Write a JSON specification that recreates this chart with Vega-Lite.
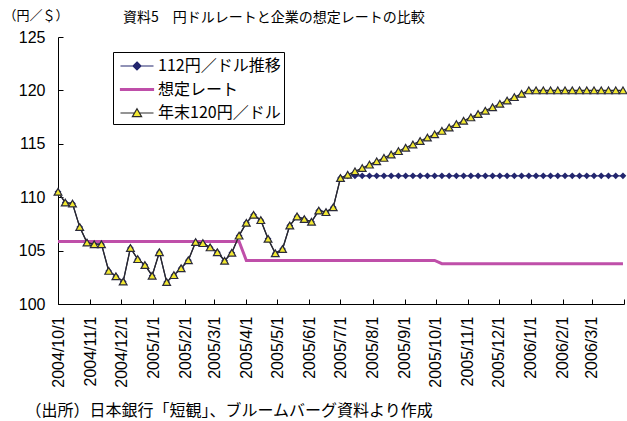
{
  "$schema": "https://vega.github.io/schema/vega-lite/v6.json",
  "width": 566,
  "height": 267,
  "autosize": "none",
  "padding": {"left": 58, "top": 37, "right": 3, "bottom": 117},
  "background": "#ffffff",
  "title": {"text": "資料5　円ドルレートと企業の想定レートの比較", "anchor": "start", "dx": 120, "offset": -30, "baseline": "bottom", "fontSize": 14, "font": "Noto Sans CJK JP", "fontWeight": "normal", "color": "#000000"},
  "data": {"values": [
    {"date":"2004-10-01","series":"112円／ドル推移","value":110.5},
    {"date":"2004-10-08","series":"112円／ドル推移","value":109.5},
    {"date":"2004-10-15","series":"112円／ドル推移","value":109.4},
    {"date":"2004-10-22","series":"112円／ドル推移","value":107.2},
    {"date":"2004-10-29","series":"112円／ドル推移","value":105.75},
    {"date":"2004-11-05","series":"112円／ドル推移","value":105.6},
    {"date":"2004-11-12","series":"112円／ドル推移","value":105.6},
    {"date":"2004-11-19","series":"112円／ドル推移","value":103.1},
    {"date":"2004-11-26","series":"112円／ドル推移","value":102.6},
    {"date":"2004-12-03","series":"112円／ドル推移","value":102.1},
    {"date":"2004-12-10","series":"112円／ドル推移","value":105.25},
    {"date":"2004-12-17","series":"112円／ドル推移","value":104.2},
    {"date":"2004-12-24","series":"112円／ドル推移","value":103.65},
    {"date":"2004-12-31","series":"112円／ドル推移","value":102.65},
    {"date":"2005-01-07","series":"112円／ドル推移","value":104.85},
    {"date":"2005-01-14","series":"112円／ドル推移","value":102.05},
    {"date":"2005-01-21","series":"112円／ドル推移","value":102.7},
    {"date":"2005-01-28","series":"112円／ドル推移","value":103.35},
    {"date":"2005-02-04","series":"112円／ドル推移","value":104.1},
    {"date":"2005-02-11","series":"112円／ドル推移","value":105.8},
    {"date":"2005-02-18","series":"112円／ドル推移","value":105.7},
    {"date":"2005-02-25","series":"112円／ドル推移","value":105.3},
    {"date":"2005-03-04","series":"112円／ドル推移","value":104.85},
    {"date":"2005-03-11","series":"112円／ドル推移","value":104.05},
    {"date":"2005-03-18","series":"112円／ドル推移","value":104.8},
    {"date":"2005-03-25","series":"112円／ドル推移","value":106.4},
    {"date":"2005-04-01","series":"112円／ドル推移","value":107.6},
    {"date":"2005-04-08","series":"112円／ドル推移","value":108.35},
    {"date":"2005-04-15","series":"112円／ドル推移","value":107.85},
    {"date":"2005-04-22","series":"112円／ドル推移","value":106.1},
    {"date":"2005-04-29","series":"112円／ドル推移","value":104.75},
    {"date":"2005-05-06","series":"112円／ドル推移","value":105.15},
    {"date":"2005-05-13","series":"112円／ドル推移","value":107.35},
    {"date":"2005-05-20","series":"112円／ドル推移","value":108.2},
    {"date":"2005-05-27","series":"112円／ドル推移","value":107.95},
    {"date":"2005-06-03","series":"112円／ドル推移","value":107.7},
    {"date":"2005-06-10","series":"112円／ドル推移","value":108.75},
    {"date":"2005-06-17","series":"112円／ドル推移","value":108.6},
    {"date":"2005-06-24","series":"112円／ドル推移","value":109.05},
    {"date":"2005-07-01","series":"112円／ドル推移","value":111.8},
    {"date":"2005-07-08","series":"112円／ドル推移","value":112},
    {"date":"2005-07-15","series":"112円／ドル推移","value":112},
    {"date":"2005-07-22","series":"112円／ドル推移","value":112},
    {"date":"2005-07-29","series":"112円／ドル推移","value":112},
    {"date":"2005-08-05","series":"112円／ドル推移","value":112},
    {"date":"2005-08-12","series":"112円／ドル推移","value":112},
    {"date":"2005-08-19","series":"112円／ドル推移","value":112},
    {"date":"2005-08-26","series":"112円／ドル推移","value":112},
    {"date":"2005-09-02","series":"112円／ドル推移","value":112},
    {"date":"2005-09-09","series":"112円／ドル推移","value":112},
    {"date":"2005-09-16","series":"112円／ドル推移","value":112},
    {"date":"2005-09-23","series":"112円／ドル推移","value":112},
    {"date":"2005-09-30","series":"112円／ドル推移","value":112},
    {"date":"2005-10-07","series":"112円／ドル推移","value":112},
    {"date":"2005-10-14","series":"112円／ドル推移","value":112},
    {"date":"2005-10-21","series":"112円／ドル推移","value":112},
    {"date":"2005-10-28","series":"112円／ドル推移","value":112},
    {"date":"2005-11-04","series":"112円／ドル推移","value":112},
    {"date":"2005-11-11","series":"112円／ドル推移","value":112},
    {"date":"2005-11-18","series":"112円／ドル推移","value":112},
    {"date":"2005-11-25","series":"112円／ドル推移","value":112},
    {"date":"2005-12-02","series":"112円／ドル推移","value":112},
    {"date":"2005-12-09","series":"112円／ドル推移","value":112},
    {"date":"2005-12-16","series":"112円／ドル推移","value":112},
    {"date":"2005-12-23","series":"112円／ドル推移","value":112},
    {"date":"2005-12-30","series":"112円／ドル推移","value":112},
    {"date":"2006-01-06","series":"112円／ドル推移","value":112},
    {"date":"2006-01-13","series":"112円／ドル推移","value":112},
    {"date":"2006-01-20","series":"112円／ドル推移","value":112},
    {"date":"2006-01-27","series":"112円／ドル推移","value":112},
    {"date":"2006-02-03","series":"112円／ドル推移","value":112},
    {"date":"2006-02-10","series":"112円／ドル推移","value":112},
    {"date":"2006-02-17","series":"112円／ドル推移","value":112},
    {"date":"2006-02-24","series":"112円／ドル推移","value":112},
    {"date":"2006-03-03","series":"112円／ドル推移","value":112},
    {"date":"2006-03-10","series":"112円／ドル推移","value":112},
    {"date":"2006-03-17","series":"112円／ドル推移","value":112},
    {"date":"2006-03-24","series":"112円／ドル推移","value":112},
    {"date":"2006-03-31","series":"112円／ドル推移","value":112},

    {"date":"2004-10-01","series":"想定レート","value":105.85},
    {"date":"2004-10-08","series":"想定レート","value":105.85},
    {"date":"2004-10-15","series":"想定レート","value":105.85},
    {"date":"2004-10-22","series":"想定レート","value":105.85},
    {"date":"2004-10-29","series":"想定レート","value":105.85},
    {"date":"2004-11-05","series":"想定レート","value":105.85},
    {"date":"2004-11-12","series":"想定レート","value":105.85},
    {"date":"2004-11-19","series":"想定レート","value":105.85},
    {"date":"2004-11-26","series":"想定レート","value":105.85},
    {"date":"2004-12-03","series":"想定レート","value":105.85},
    {"date":"2004-12-10","series":"想定レート","value":105.85},
    {"date":"2004-12-17","series":"想定レート","value":105.85},
    {"date":"2004-12-24","series":"想定レート","value":105.85},
    {"date":"2004-12-31","series":"想定レート","value":105.85},
    {"date":"2005-01-07","series":"想定レート","value":105.85},
    {"date":"2005-01-14","series":"想定レート","value":105.85},
    {"date":"2005-01-21","series":"想定レート","value":105.85},
    {"date":"2005-01-28","series":"想定レート","value":105.85},
    {"date":"2005-02-04","series":"想定レート","value":105.85},
    {"date":"2005-02-11","series":"想定レート","value":105.85},
    {"date":"2005-02-18","series":"想定レート","value":105.85},
    {"date":"2005-02-25","series":"想定レート","value":105.85},
    {"date":"2005-03-04","series":"想定レート","value":105.85},
    {"date":"2005-03-11","series":"想定レート","value":105.85},
    {"date":"2005-03-18","series":"想定レート","value":105.85},
    {"date":"2005-03-25","series":"想定レート","value":105.85},
    {"date":"2005-04-01","series":"想定レート","value":104.08},
    {"date":"2005-04-08","series":"想定レート","value":104.08},
    {"date":"2005-04-15","series":"想定レート","value":104.08},
    {"date":"2005-04-22","series":"想定レート","value":104.08},
    {"date":"2005-04-29","series":"想定レート","value":104.08},
    {"date":"2005-05-06","series":"想定レート","value":104.08},
    {"date":"2005-05-13","series":"想定レート","value":104.08},
    {"date":"2005-05-20","series":"想定レート","value":104.08},
    {"date":"2005-05-27","series":"想定レート","value":104.08},
    {"date":"2005-06-03","series":"想定レート","value":104.08},
    {"date":"2005-06-10","series":"想定レート","value":104.08},
    {"date":"2005-06-17","series":"想定レート","value":104.08},
    {"date":"2005-06-24","series":"想定レート","value":104.08},
    {"date":"2005-07-01","series":"想定レート","value":104.08},
    {"date":"2005-07-08","series":"想定レート","value":104.08},
    {"date":"2005-07-15","series":"想定レート","value":104.08},
    {"date":"2005-07-22","series":"想定レート","value":104.08},
    {"date":"2005-07-29","series":"想定レート","value":104.08},
    {"date":"2005-08-05","series":"想定レート","value":104.08},
    {"date":"2005-08-12","series":"想定レート","value":104.08},
    {"date":"2005-08-19","series":"想定レート","value":104.08},
    {"date":"2005-08-26","series":"想定レート","value":104.08},
    {"date":"2005-09-02","series":"想定レート","value":104.08},
    {"date":"2005-09-09","series":"想定レート","value":104.08},
    {"date":"2005-09-16","series":"想定レート","value":104.08},
    {"date":"2005-09-23","series":"想定レート","value":104.08},
    {"date":"2005-09-30","series":"想定レート","value":104.08},
    {"date":"2005-10-07","series":"想定レート","value":103.78},
    {"date":"2005-10-14","series":"想定レート","value":103.78},
    {"date":"2005-10-21","series":"想定レート","value":103.78},
    {"date":"2005-10-28","series":"想定レート","value":103.78},
    {"date":"2005-11-04","series":"想定レート","value":103.78},
    {"date":"2005-11-11","series":"想定レート","value":103.78},
    {"date":"2005-11-18","series":"想定レート","value":103.78},
    {"date":"2005-11-25","series":"想定レート","value":103.78},
    {"date":"2005-12-02","series":"想定レート","value":103.78},
    {"date":"2005-12-09","series":"想定レート","value":103.78},
    {"date":"2005-12-16","series":"想定レート","value":103.78},
    {"date":"2005-12-23","series":"想定レート","value":103.78},
    {"date":"2005-12-30","series":"想定レート","value":103.78},
    {"date":"2006-01-06","series":"想定レート","value":103.78},
    {"date":"2006-01-13","series":"想定レート","value":103.78},
    {"date":"2006-01-20","series":"想定レート","value":103.78},
    {"date":"2006-01-27","series":"想定レート","value":103.78},
    {"date":"2006-02-03","series":"想定レート","value":103.78},
    {"date":"2006-02-10","series":"想定レート","value":103.78},
    {"date":"2006-02-17","series":"想定レート","value":103.78},
    {"date":"2006-02-24","series":"想定レート","value":103.78},
    {"date":"2006-03-03","series":"想定レート","value":103.78},
    {"date":"2006-03-10","series":"想定レート","value":103.78},
    {"date":"2006-03-17","series":"想定レート","value":103.78},
    {"date":"2006-03-24","series":"想定レート","value":103.78},
    {"date":"2006-03-31","series":"想定レート","value":103.78},

    {"date":"2004-10-01","series":"年末120円／ドル","value":110.5},
    {"date":"2004-10-08","series":"年末120円／ドル","value":109.5},
    {"date":"2004-10-15","series":"年末120円／ドル","value":109.4},
    {"date":"2004-10-22","series":"年末120円／ドル","value":107.2},
    {"date":"2004-10-29","series":"年末120円／ドル","value":105.75},
    {"date":"2004-11-05","series":"年末120円／ドル","value":105.6},
    {"date":"2004-11-12","series":"年末120円／ドル","value":105.6},
    {"date":"2004-11-19","series":"年末120円／ドル","value":103.1},
    {"date":"2004-11-26","series":"年末120円／ドル","value":102.6},
    {"date":"2004-12-03","series":"年末120円／ドル","value":102.1},
    {"date":"2004-12-10","series":"年末120円／ドル","value":105.25},
    {"date":"2004-12-17","series":"年末120円／ドル","value":104.2},
    {"date":"2004-12-24","series":"年末120円／ドル","value":103.65},
    {"date":"2004-12-31","series":"年末120円／ドル","value":102.65},
    {"date":"2005-01-07","series":"年末120円／ドル","value":104.85},
    {"date":"2005-01-14","series":"年末120円／ドル","value":102.05},
    {"date":"2005-01-21","series":"年末120円／ドル","value":102.7},
    {"date":"2005-01-28","series":"年末120円／ドル","value":103.35},
    {"date":"2005-02-04","series":"年末120円／ドル","value":104.1},
    {"date":"2005-02-11","series":"年末120円／ドル","value":105.8},
    {"date":"2005-02-18","series":"年末120円／ドル","value":105.7},
    {"date":"2005-02-25","series":"年末120円／ドル","value":105.3},
    {"date":"2005-03-04","series":"年末120円／ドル","value":104.85},
    {"date":"2005-03-11","series":"年末120円／ドル","value":104.05},
    {"date":"2005-03-18","series":"年末120円／ドル","value":104.8},
    {"date":"2005-03-25","series":"年末120円／ドル","value":106.4},
    {"date":"2005-04-01","series":"年末120円／ドル","value":107.6},
    {"date":"2005-04-08","series":"年末120円／ドル","value":108.35},
    {"date":"2005-04-15","series":"年末120円／ドル","value":107.85},
    {"date":"2005-04-22","series":"年末120円／ドル","value":106.1},
    {"date":"2005-04-29","series":"年末120円／ドル","value":104.75},
    {"date":"2005-05-06","series":"年末120円／ドル","value":105.15},
    {"date":"2005-05-13","series":"年末120円／ドル","value":107.35},
    {"date":"2005-05-20","series":"年末120円／ドル","value":108.2},
    {"date":"2005-05-27","series":"年末120円／ドル","value":107.95},
    {"date":"2005-06-03","series":"年末120円／ドル","value":107.7},
    {"date":"2005-06-10","series":"年末120円／ドル","value":108.75},
    {"date":"2005-06-17","series":"年末120円／ドル","value":108.6},
    {"date":"2005-06-24","series":"年末120円／ドル","value":109.05},
    {"date":"2005-07-01","series":"年末120円／ドル","value":111.8},
    {"date":"2005-07-08","series":"年末120円／ドル","value":112.1},
    {"date":"2005-07-15","series":"年末120円／ドル","value":112.42},
    {"date":"2005-07-22","series":"年末120円／ドル","value":112.73},
    {"date":"2005-07-29","series":"年末120円／ドル","value":113.05},
    {"date":"2005-08-05","series":"年末120円／ドル","value":113.36},
    {"date":"2005-08-12","series":"年末120円／ドル","value":113.68},
    {"date":"2005-08-19","series":"年末120円／ドル","value":114.0},
    {"date":"2005-08-26","series":"年末120円／ドル","value":114.31},
    {"date":"2005-09-02","series":"年末120円／ドル","value":114.63},
    {"date":"2005-09-09","series":"年末120円／ドル","value":114.94},
    {"date":"2005-09-16","series":"年末120円／ドル","value":115.26},
    {"date":"2005-09-23","series":"年末120円／ドル","value":115.58},
    {"date":"2005-09-30","series":"年末120円／ドル","value":115.89},
    {"date":"2005-10-07","series":"年末120円／ドル","value":116.21},
    {"date":"2005-10-14","series":"年末120円／ドル","value":116.52},
    {"date":"2005-10-21","series":"年末120円／ドル","value":116.84},
    {"date":"2005-10-28","series":"年末120円／ドル","value":117.16},
    {"date":"2005-11-04","series":"年末120円／ドル","value":117.47},
    {"date":"2005-11-11","series":"年末120円／ドル","value":117.79},
    {"date":"2005-11-18","series":"年末120円／ドル","value":118.1},
    {"date":"2005-11-25","series":"年末120円／ドル","value":118.42},
    {"date":"2005-12-02","series":"年末120円／ドル","value":118.74},
    {"date":"2005-12-09","series":"年末120円／ドル","value":119.05},
    {"date":"2005-12-16","series":"年末120円／ドル","value":119.37},
    {"date":"2005-12-23","series":"年末120円／ドル","value":119.68},
    {"date":"2005-12-30","series":"年末120円／ドル","value":120},
    {"date":"2006-01-06","series":"年末120円／ドル","value":120},
    {"date":"2006-01-13","series":"年末120円／ドル","value":120},
    {"date":"2006-01-20","series":"年末120円／ドル","value":120},
    {"date":"2006-01-27","series":"年末120円／ドル","value":120},
    {"date":"2006-02-03","series":"年末120円／ドル","value":120},
    {"date":"2006-02-10","series":"年末120円／ドル","value":120},
    {"date":"2006-02-17","series":"年末120円／ドル","value":120},
    {"date":"2006-02-24","series":"年末120円／ドル","value":120},
    {"date":"2006-03-03","series":"年末120円／ドル","value":120},
    {"date":"2006-03-10","series":"年末120円／ドル","value":120},
    {"date":"2006-03-17","series":"年末120円／ドル","value":120},
    {"date":"2006-03-24","series":"年末120円／ドル","value":120},
    {"date":"2006-03-31","series":"年末120円／ドル","value":120}
  ]},
  "encoding": {
    "x": {
      "field": "date", "type": "temporal",
      "scale": {"type": "utc", "domain": [{"year": 2004, "month": 10, "date": 1, "utc": true}, {"year": 2006, "month": 4, "date": 1, "utc": true}], "nice": false},
      "axis": {
        "title": "（出所）日本銀行「短観」、ブルームバーグ資料より作成",
        "titleX": -33, "titleY": 106, "titleAlign": "left", "titleAnchor": "start", "titleBaseline": "middle", "titleAngle": 0,
        "titleFont": "Noto Sans CJK JP", "titleFontSize": 16, "titleFontWeight": "normal", "titleColor": "#000000",
        "tickCount": {"interval": "month", "step": 1},
        "labelExpr": "(utcyear(datum.value) == 2006 && utcmonth(datum.value) == 3) ? '' : utcFormat(datum.value, '%Y/%-m/%-d')",
        "labelAngle": -90, "labelAlign": "right", "labelBaseline": "middle",
        "labelFont": "Liberation Sans", "labelFontSize": 16, "labelColor": "#000000",
        "labelPadding": 17, "labelOverlap": false, "labelFlush": false, "labelBound": false,
        "tickSize": -5, "tickColor": "#000000", "tickWidth": 1,
        "domainColor": "#000000", "domainWidth": 1, "grid": false
      }
    },
    "y": {
      "field": "value", "type": "quantitative",
      "scale": {"domain": [100, 125], "nice": false, "zero": false},
      "axis": {
        "title": "（円／＄）",
        "titleX": -55, "titleY": -22, "titleAlign": "left", "titleAngle": 0, "titleBaseline": "middle",
        "titleFont": "Noto Sans CJK JP", "titleFontSize": 13, "titleFontWeight": "normal", "titleColor": "#000000",
        "values": [100, 105, 110, 115, 120, 125],
        "labelFont": "Liberation Sans", "labelFontSize": 16, "labelColor": "#000000",
        "labelPadding": 18, "labelFlush": false, "labelOverlap": false,
        "tickSize": -5, "tickColor": "#000000", "tickWidth": 1,
        "domainColor": "#000000", "domainWidth": 1, "grid": false
      }
    }
  },
  "layer": [
    {
      "transform": [{"filter": "datum.series == '112円／ドル推移'"}],
      "mark": {"type": "line", "color": "#23266E", "strokeWidth": 1.2}
    },
    {
      "transform": [{"filter": "datum.series == '112円／ドル推移'"}],
      "mark": {"type": "point", "shape": "diamond", "filled": true, "color": "#23266E", "size": 45, "opacity": 1}
    },
    {
      "transform": [{"filter": "datum.series == '想定レート'"}],
      "mark": {"type": "line", "color": "#BF4FA9", "strokeWidth": 3}
    },
    {
      "transform": [{"filter": "datum.series == '年末120円／ドル'"}],
      "mark": {"type": "line", "color": "#2A2A2A", "strokeWidth": 1.3}
    },
    {
      "transform": [{"filter": "datum.series == '年末120円／ドル'"}],
      "mark": {"type": "point", "shape": "triangle-up", "filled": true, "fill": "#F2E831", "stroke": "#2A2A3A", "strokeWidth": 1.2, "size": 60, "opacity": 1}
    },
    {
      "transform": [{"filter": "false"}],
      "mark": {"type": "point", "filled": true, "opacity": 1},
      "encoding": {
        "shape": {
          "field": "series", "type": "nominal",
          "scale": {"domain": ["112円／ドル推移", "想定レート", "年末120円／ドル"], "range": ["M-1.65,0H1.65M0,-0.4L0.4,0L0,0.4L-0.4,0Z", "M-1.65,-0.08H1.65V0.08H-1.65Z", "M-1.65,0H-0.26M0.26,0H1.65M0,-0.42L0.46,0.36L-0.46,0.36Z"]},
          "legend": {"title": null}
        },
        "fill": {
          "field": "series", "type": "nominal",
          "scale": {"domain": ["112円／ドル推移", "想定レート", "年末120円／ドル"], "range": ["#23266E", "#BF4FA9", "#F2E831"]},
          "legend": {"title": null}
        },
        "stroke": {
          "field": "series", "type": "nominal",
          "scale": {"domain": ["112円／ドル推移", "想定レート", "年末120円／ドル"], "range": ["#23266E", "#BF4FA9", "#2A2A2A"]},
          "legend": {"title": null}
        }
      }
    }
  ],
  "config": {
    "view": {"stroke": null},
    "legend": {
      "orient": "none", "legendX": 55, "legendY": 15, "direction": "vertical",
      "symbolSize": 400, "symbolStrokeWidth": 1.2, "symbolOpacity": 1, "symbolOffset": 10,
      "labelFont": "Noto Sans CJK JP", "labelFontSize": 16, "labelColor": "#000000", "labelOffset": 10,
      "strokeColor": "#000000", "fillColor": "#ffffff", "padding": 3, "rowPadding": 4.5, "cornerRadius": 0
    }
  }
}
